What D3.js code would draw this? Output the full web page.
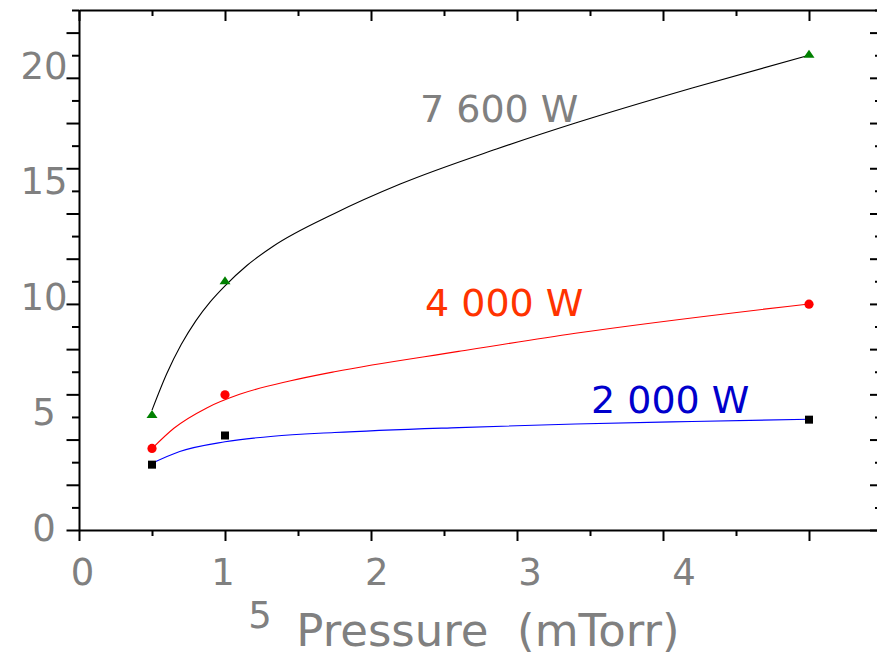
<!DOCTYPE html>
<html>
<head>
<meta charset="utf-8">
<script src="https://cdn.jsdelivr.net/npm/d3@7"></script>
<style>
  html, body { margin: 0; padding: 0; background: #fff; }
  svg { display: block; font-family: "DejaVu Sans", Verdana, sans-serif; }
</style>
</head>
<body>
<div id="chart"></div>
<script>
// Data
const pressure = [0.5, 1, 5]
const mark2000 = [2.89, 4.18, 4.88]
const mark4000 = [3.61, 5.98, 9.99]
const mark7600 = [5.12, 11.04, 21.06]

// fitted curves (sampled from the drawn lines)
const fitX7600 = [0.5, 0.6, 0.7, 0.8, 0.9, 1.0, 1.15, 1.33, 1.75, 2.2, 2.86, 3.4, 4.2, 5.0]
const fit7600 = [5.3, 6.9, 8.2, 9.25, 10.1, 10.8, 11.7, 12.55, 14.0, 15.3, 16.85, 18.0, 19.55, 21.0]
const fitX4000 = [0.5, 0.65, 0.875, 1.1, 1.45, 1.75, 2.6, 3.4, 5.0]
const fit4000 = [3.6, 4.5, 5.4, 6.0, 6.6, 7.0, 7.9, 8.7, 10.0]
const fitX2000 = [0.5, 0.69, 1.0, 1.33, 1.75, 2.6, 3.4, 4.2, 5.0]
const fit2000 = [2.95, 3.47, 3.9, 4.15, 4.31, 4.53, 4.69, 4.8, 4.9]

const xTickLabels = ['0', '1', '2', '3', '4']
const yTickLabels = ['0', '5', '10', '15', '20']
const seriesNames = ['7 600 W', '4 000 W', '2 000 W']

// Dimensions
const dims = { width: 877, height: 658, left: 79, right: 882, top: 10, bottom: 530 }

const svg = d3.select('#chart')
  .append('svg')
  .attr('width', dims.width)
  .attr('height', dims.height)

// SCALES
const x = d3.scaleLinear().domain([0, 5.5]).range([dims.left, dims.right])
const y = d3.scaleLinear().domain([0, 23]).range([dims.bottom, dims.top])

// the labels in the original sit on their own, slightly uneven spacing
const xLabel = d3.scaleLinear().domain([0, 1, 2, 3, 4]).range([82.5, 223, 376.7, 530, 684])
const yLabel = d3.scaleLinear().domain([0, 20]).range([540.7, 78.7])

const halfSteps = d3.range(0, 5.51, 0.5)
const xMajor = halfSteps.filter(d => d % 1 === 0)
const xMinor = halfSteps.filter(d => d % 1 !== 0)
const yEven = d3.range(0, 24).filter(d => d % 2 === 0)
const yOdd = d3.range(0, 24).filter(d => d % 2 === 1)

function styleAxis(g) {
  g.selectAll('path.domain').attr('stroke', '#000').attr('stroke-width', 2)
  g.selectAll('.tick line').attr('stroke', '#000').attr('stroke-width', 2)
  g.selectAll('.tick text').remove()
}

// bottom (outward)
svg.append('g').attr('transform', `translate(0,${dims.bottom})`)
  .call(d3.axisBottom(x).tickValues(xMajor).tickSize(11).tickSizeOuter(0))
  .call(styleAxis)
svg.append('g').attr('transform', `translate(0,${dims.bottom})`)
  .call(d3.axisBottom(x).tickValues(xMinor).tickSize(6).tickSizeOuter(0))
  .call(styleAxis)
  .call(g => g.select('path.domain').remove())

// top (inward)
svg.append('g').attr('transform', `translate(0,${dims.top})`)
  .call(d3.axisBottom(x).tickValues(xMajor).tickSize(11).tickSizeOuter(0))
  .call(styleAxis)
svg.append('g').attr('transform', `translate(0,${dims.top})`)
  .call(d3.axisBottom(x).tickValues(xMinor).tickSize(6).tickSizeOuter(0))
  .call(styleAxis)
  .call(g => g.select('path.domain').remove())

// left (outward)
svg.append('g').attr('transform', `translate(${dims.left},0)`)
  .call(d3.axisLeft(y).tickValues(yEven).tickSize(12.5).tickSizeOuter(0))
  .call(styleAxis)
svg.append('g').attr('transform', `translate(${dims.left},0)`)
  .call(d3.axisLeft(y).tickValues(yOdd).tickSize(7).tickSizeOuter(0))
  .call(styleAxis)
  .call(g => g.select('path.domain').remove())

// right (inward)
svg.append('g').attr('transform', `translate(${dims.right},0)`)
  .call(d3.axisLeft(y).tickValues(yEven).tickSize(12).tickSizeOuter(0))
  .call(styleAxis)
svg.append('g').attr('transform', `translate(${dims.right},0)`)
  .call(d3.axisLeft(y).tickValues(yOdd).tickSize(7).tickSizeOuter(0))
  .call(styleAxis)
  .call(g => g.select('path.domain').remove())

// tick labels
svg.append('g')
  .selectAll('text')
  .data(xTickLabels)
  .join('text')
  .attr('x', (d, i) => xLabel(i))
  .attr('y', 585)
  .attr('text-anchor', 'middle')
  .attr('font-size', 37)
  .attr('fill', '#808080')
  .text(d => d)

// the "5" label wrapped onto the next line in the original
svg.append('text')
  .attr('x', 260)
  .attr('y', 628)
  .attr('text-anchor', 'middle')
  .attr('font-size', 37)
  .attr('fill', '#808080')
  .text('5')

svg.append('g')
  .selectAll('text')
  .data(yTickLabels)
  .join('text')
  .attr('x', 44)
  .attr('y', d => yLabel(+d))
  .attr('text-anchor', 'middle')
  .attr('font-size', 37)
  .attr('fill', '#808080')
  .text(d => d)

// axis title
svg.append('text')
  .attr('x', 488)
  .attr('y', 646)
  .attr('text-anchor', 'middle')
  .attr('font-size', 45)
  .attr('fill', '#808080')
  .style('white-space', 'pre')
  .text('Pressure  (mTorr)')

// CURVES
const line = d3.line()
  .x(d => x(d[0]))
  .y(d => y(d[1]))
  .curve(d3.curveMonotoneX)

const curves = [
  { xs: fitX7600, ys: fit7600, color: '#000000' },
  { xs: fitX4000, ys: fit4000, color: '#ff0000' },
  { xs: fitX2000, ys: fit2000, color: '#0000ff' },
]

svg.append('g')
  .selectAll('path')
  .data(curves)
  .join('path')
  .attr('d', c => line(d3.zip(c.xs, c.ys)))
  .attr('fill', 'none')
  .attr('stroke', c => c.color)
  .attr('stroke-width', 1.1)

// MARKERS
svg.append('g')
  .selectAll('rect')
  .data(d3.zip(pressure, mark2000))
  .join('rect')
  .attr('x', d => x(d[0]) - 4)
  .attr('y', d => y(d[1]) - 4)
  .attr('width', 8)
  .attr('height', 8)
  .attr('fill', '#000')

svg.append('g')
  .selectAll('circle')
  .data(d3.zip(pressure, mark4000))
  .join('circle')
  .attr('cx', d => x(d[0]))
  .attr('cy', d => y(d[1]))
  .attr('r', 4.6)
  .attr('fill', '#ff0000')

svg.append('g')
  .selectAll('path')
  .data(d3.zip(pressure, mark7600))
  .join('path')
  .attr('d', d => {
    const cx = x(d[0]), cy = y(d[1])
    return `M${cx - 5.5},${cy + 3.8}L${cx + 5.5},${cy + 3.8}L${cx},${cy - 4.2}Z`
  })
  .attr('fill', '#008000')

// SERIES LABELS
const seriesLabels = [
  { text: seriesNames[0], x: 420, y: 122, color: '#808080' },
  { text: seriesNames[1], x: 425, y: 316, color: '#ff3300' },
  { text: seriesNames[2], x: 591, y: 413, color: '#0000cc' },
]

svg.append('g')
  .selectAll('text')
  .data(seriesLabels)
  .join('text')
  .attr('x', d => d.x)
  .attr('y', d => d.y)
  .attr('font-size', 38)
  .attr('fill', d => d.color)
  .style('white-space', 'pre')
  .text(d => d.text)
</script>
</body>
</html>
